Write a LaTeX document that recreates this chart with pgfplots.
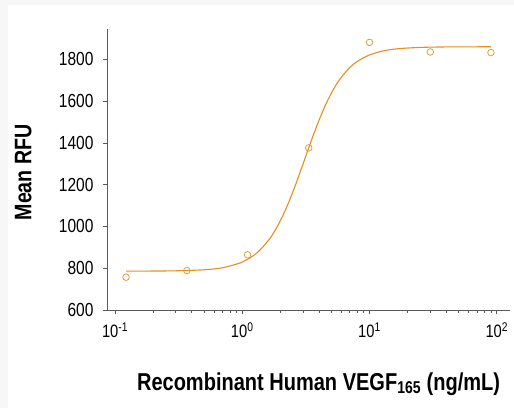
\documentclass[border=0pt]{standalone}
\usepackage{fontspec}
\setmainfont{Liberation Sans}[FakeStretch=0.82]
\usepackage{pgfplots}
\pgfplotsset{compat=1.18}
\definecolor{curve}{HTML}{E3901F}
\definecolor{pts}{HTML}{D9A13A}
\definecolor{axgray}{HTML}{5A5A5A}
\begin{document}
\begin{tikzpicture}
\path[use as bounding box] (0,0) rectangle (514bp,408bp);
\fill[black!3] (0,0) rectangle (514bp,408bp);
\fill[white] (8bp,0) rectangle (514bp,403bp);
\begin{axis}[
  at={(107bp,98bp)}, anchor=south west,
  scale only axis,
  width=403bp, height=281bp,
  xmode=log,
  xmin=0.0865, xmax=127,
  ymin=600, ymax=1945,
  axis x line*=bottom, axis y line*=left,
  axis line style={axgray, line width=0.8pt},
  every tick/.style={axgray, line width=0.7pt},
  tick align=outside,
  major tick length=4bp, minor tick length=2.5bp,
  ytick={600,800,1000,1200,1400,1600,1800},
  xtick={0.1,1,10,100},
  /pgf/number format/assume math mode=true,
  /pgf/number format/1000 sep={},
  yticklabel style={font=\fontsize{19}{19}\selectfont, xshift=-6bp},
  xticklabel style={font=\fontsize{18}{18}\selectfont, yshift=-5bp},
  xticklabel={10\textsuperscript{\pgfmathparse{int(round(\tick/ln(10)))}\pgfmathresult}},
  xlabel={Recombinant Human VEGF\textsubscript{165} (ng/mL)},
  ylabel={Mean RFU},
  xlabel style={font=\fontsize{24.5}{24.5}\selectfont\bfseries, at={(axis description cs:0.525,-0.285)}, anchor=base},
  ylabel style={font=\fontsize{24}{24}\selectfont\bfseries, at={(axis description cs:-0.208,0.49)}, anchor=center},
  clip=false,
]
\addplot[curve, line width=1.1pt, smooth] coordinates {
 (0.122,786.1) (0.2,786.5) (0.3,787.6) (0.5,792.5) (0.7,802.4) (1.0,829.4)
 (1.3,872.7) (1.6,931.7) (1.8,978.4) (2.0,1029.4) (2.2,1083.3) (2.4,1138.4)
 (2.6,1193.4) (2.8,1247) (3.0,1298.4) (3.2,1346.9) (3.4,1392.1) (3.6,1433.8)
 (4.0,1506.9) (4.5,1580.3) (5,1636.8) (5.5,1680.3) (6,1713.9) (7,1760.4)
 (8,1789.5) (10,1821) (13,1841) (17,1850.9) (25,1856.9) (40,1859.2)
 (60,1859.7) (90,1859.9)
};
\addplot[only marks, mark=o, mark size=3.3bp, mark options={pts, line width=0.8pt}] coordinates {
 (0.122,757) (0.367,789) (1.1,864) (3.33,1376) (10,1881) (30,1835) (90,1832)
};
\end{axis}
\end{tikzpicture}
\end{document}
